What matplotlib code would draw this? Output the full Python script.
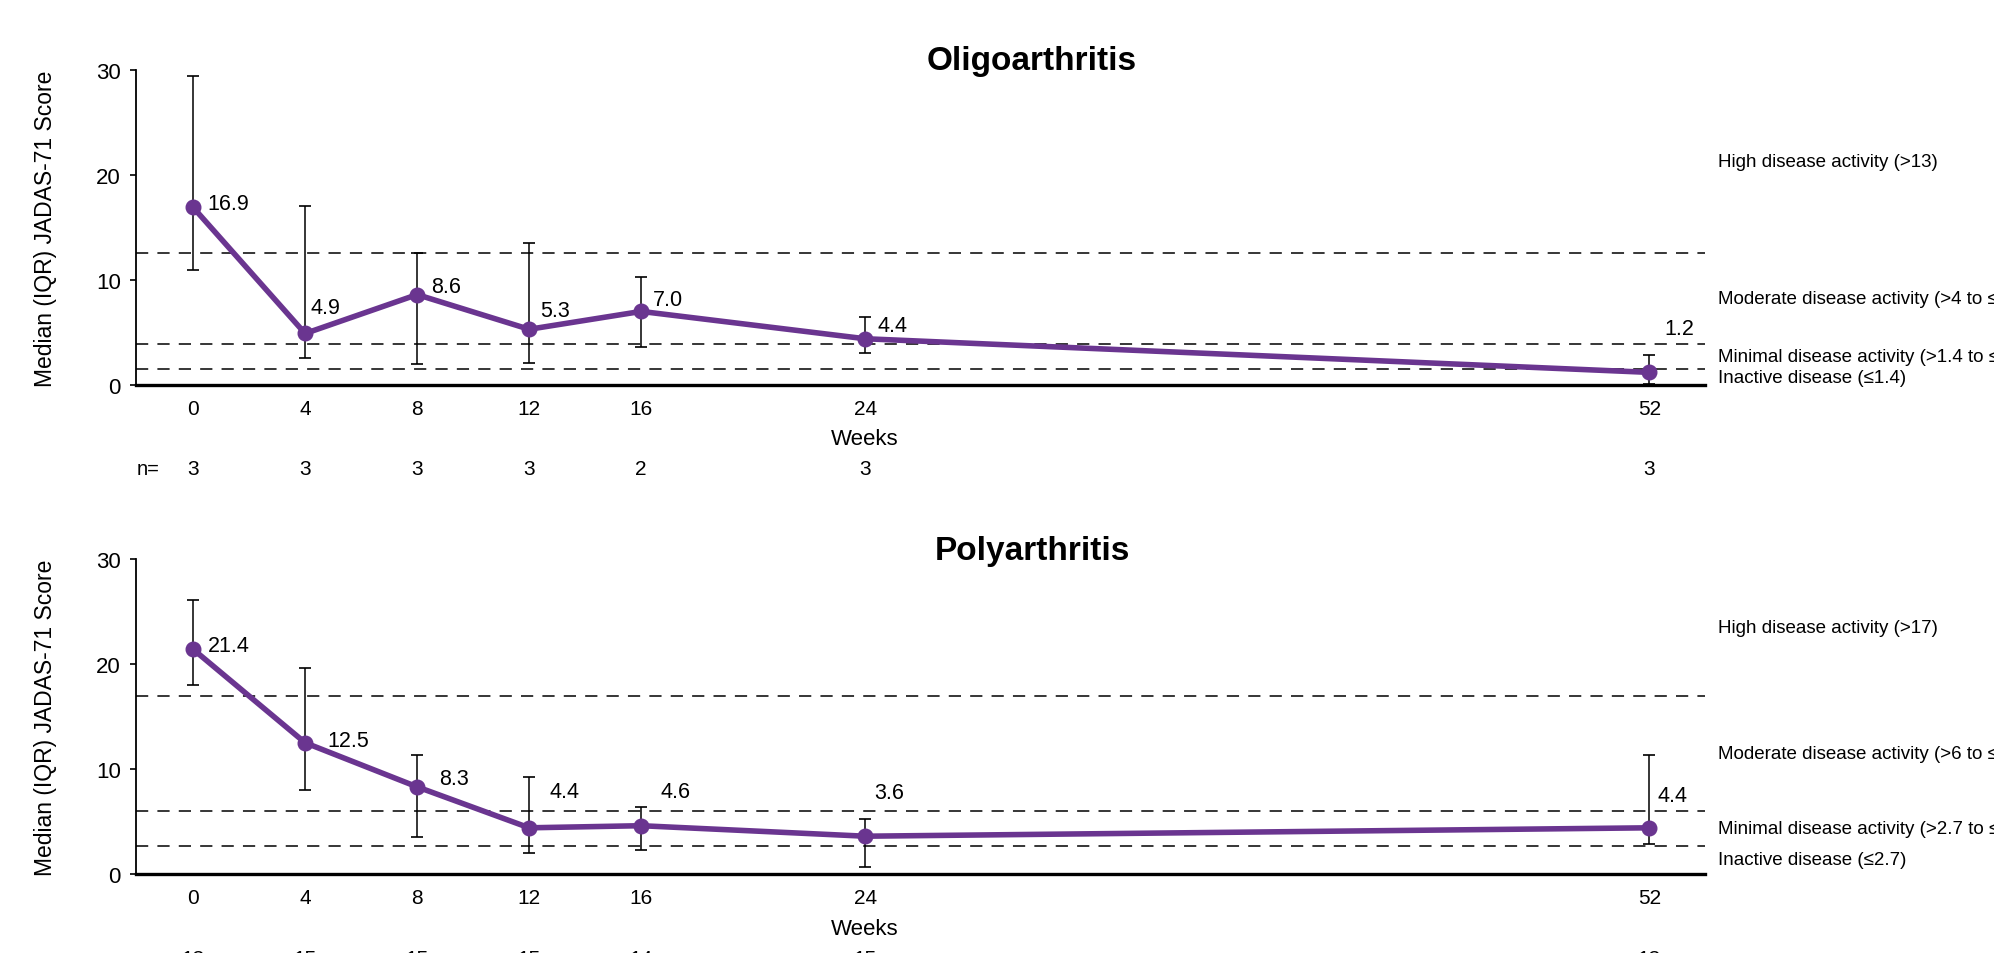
import matplotlib
matplotlib.use("Agg")
import matplotlib.pyplot as plt

plt.rcParams['font.family'] = ['Liberation Sans', 'DejaVu Sans']

weeks = [0, 4, 8, 12, 16, 24, 52]

# oligoarthritis: median, lower and upper quartile
oligo_median = [16.9, 4.9, 8.6, 5.3, 7.0, 4.4, 1.2]
oligo_q1 = [10.9, 2.6, 2.0, 2.1, 3.6, 3.0, 0.1]
oligo_q3 = [29.4, 17.0, 12.6, 13.5, 10.3, 6.5, 2.9]
oligo_n = [3, 3, 3, 3, 2, 3, 3]
oligo_cuts = [12.6, 3.9, 1.5]
oligo_bands = ["High disease activity (>13)",
               "Moderate disease activity (>4 to \u226413)",
               "Minimal disease activity (>1.4 to \u22644)",
               "Inactive disease (\u22641.4)"]

# polyarthritis
poly_median = [21.4, 12.5, 8.3, 4.4, 4.6, 3.6, 4.4]
poly_q1 = [18.0, 8.0, 3.5, 2.0, 2.3, 0.7, 2.9]
poly_q3 = [26.1, 19.6, 11.3, 9.2, 6.4, 5.2, 11.3]
poly_n = [13, 15, 15, 15, 14, 15, 13]
poly_cuts = [17.0, 6.0, 2.7]
poly_bands = ["High disease activity (>17)",
              "Moderate disease activity (>6 to \u226417)",
              "Minimal disease activity (>2.7 to \u22646)",
              "Inactive disease (\u22642.7)"]

# value label offsets in pixels (dx, dy)
oligo_offsets = [(14, 4), (5, 26), (14, 8), (11, 19), (12, 12), (12, 13), (15, 44)]
poly_offsets = [(15, 4), (22, 2), (22, 8), (20, 36), (19, 34), (9, 44), (8, 32)]

purple = '#6a3590'


def draw_panel(ax, title, median, q1, q3, n, cuts, bands, offsets):
    lower = [m - a for m, a in zip(median, q1)]
    upper = [b - m for m, b in zip(median, q3)]
    ax.errorbar(weeks, median, yerr=[lower, upper], fmt='none', ecolor='black',
                elinewidth=1.1, capsize=4.5, capthick=1.2, zorder=2)
    ax.plot(weeks, median, color=purple, lw=4, marker='o', ms=10.5, zorder=3)

    for c in cuts:
        ax.axhline(c, color='black', lw=1.1, ls=(0, (8, 6)), zorder=1)

    for w, m, off in zip(weeks, median, offsets):
        ax.annotate(f"{m:.1f}", xy=(w, m), xytext=off, textcoords='offset pixels',
                    ha='left', va='center', fontsize=15.5)

    # labels for the activity bands, centred in each band
    edges = [30] + cuts + [0]
    for i, lab in enumerate(bands):
        yc = (edges[i] + edges[i + 1]) / 2
        ax.text(1.008, yc, lab, transform=ax.get_yaxis_transform(),
                ha='left', va='center', fontsize=13.5, clip_on=False)

    ax.set_xlim(-2.04, 54)
    ax.set_ylim(0, 30)
    ax.set_xticks(weeks)
    ax.set_xticklabels([str(w) for w in weeks], fontsize=15)
    ax.set_yticks([0, 10, 20, 30])
    ax.tick_params(axis='y', labelsize=16, length=4, width=1.2, pad=7)
    ax.tick_params(axis='x', length=0, pad=10)
    for s in ['top', 'right']:
        ax.spines[s].set_visible(False)
    ax.spines['left'].set_linewidth(1.3)
    ax.spines['bottom'].set_linewidth(2.4)

    ax.set_ylabel("Median (IQR) JADAS-71 Score", fontsize=16.5)
    ax.yaxis.set_label_coords(-0.0504, 0.5)

    ax.annotate("Weeks", xy=(24, 0), xycoords=('data', 'axes fraction'),
                xytext=(0, -54), textcoords='offset pixels',
                ha='center', va='center', fontsize=16)
    ax.annotate("n=", xy=(0, 0), xycoords='axes fraction', xytext=(12, -84),
                textcoords='offset pixels', ha='center', va='center', fontsize=14.5)
    for w, k in zip(weeks, n):
        ax.annotate(str(k), xy=(w, 0), xycoords=('data', 'axes fraction'),
                    xytext=(0, -84), textcoords='offset pixels',
                    ha='center', va='center', fontsize=15)

    ax.text(0.571, 1.028, title, transform=ax.transAxes, ha='center', va='center',
            fontsize=24, fontweight='bold')


fig = plt.figure(figsize=(19.94, 9.54), dpi=100)
ax1 = fig.add_axes([0.0682, 0.5954, 0.787, 0.3305])
ax2 = fig.add_axes([0.0682, 0.0828, 0.787, 0.3302])

draw_panel(ax1, "Oligoarthritis", oligo_median, oligo_q1, oligo_q3, oligo_n,
           oligo_cuts, oligo_bands, oligo_offsets)
draw_panel(ax2, "Polyarthritis", poly_median, poly_q1, poly_q3, poly_n,
           poly_cuts, poly_bands, poly_offsets)

fig.savefig("out.png", dpi=100)
